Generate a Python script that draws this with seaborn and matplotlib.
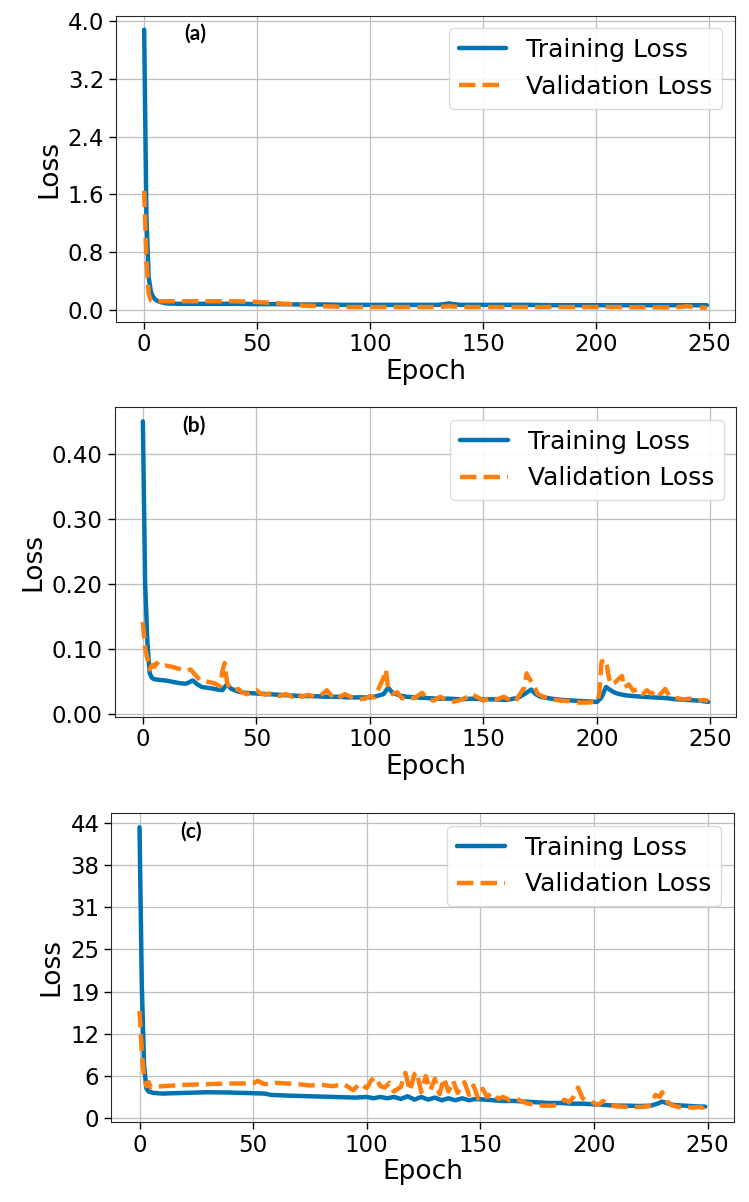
import numpy as np
import pandas as pd
import matplotlib
matplotlib.use('Agg')
import matplotlib.pyplot as plt
import seaborn as sns

# (epoch, loss) pairs
a_train = [(0, 3.88), (1, 1.30), (2, 0.45), (3, 0.25), (4, 0.18), (5, 0.14), (7, 0.11),
           (10, 0.09), (15, 0.085), (20, 0.085), (30, 0.085), (40, 0.085), (50, 0.08),
           (60, 0.08), (70, 0.075), (80, 0.075), (90, 0.07), (100, 0.07), (110, 0.07),
           (120, 0.07), (130, 0.07), (133, 0.08), (135, 0.09), (137, 0.08), (140, 0.07),
           (150, 0.07), (160, 0.07), (170, 0.07), (180, 0.065), (190, 0.065), (200, 0.065),
           (210, 0.065), (220, 0.065), (230, 0.065), (240, 0.065), (249, 0.065)]
a_val = [(0, 1.65), (1, 0.70), (2, 0.22), (3, 0.13), (5, 0.12), (8, 0.12), (10, 0.12),
         (20, 0.12), (30, 0.12), (40, 0.12), (50, 0.11), (55, 0.10), (60, 0.09), (65, 0.08),
         (70, 0.06), (80, 0.05), (90, 0.04), (100, 0.04), (110, 0.04), (120, 0.04),
         (130, 0.04), (135, 0.05), (140, 0.04), (150, 0.04), (160, 0.04), (170, 0.04),
         (180, 0.04), (190, 0.04), (200, 0.04), (210, 0.04), (220, 0.035), (230, 0.035),
         (235, 0.035), (240, 0.05), (245, 0.035), (249, 0.03)]

b_train = [(0, .45), (1, .20), (2, .11), (3, .062), (4, .055), (5, .053), (7, .052), (10, .051),
           (13, .049), (16, .047), (19, .046), (22, .051), (24, .045), (26, .041), (28, .040),
           (30, .039), (33, .037), (35, .036), (37, .045), (39, .038), (42, .034), (45, .032),
           (50, .031), (55, .030), (60, .029), (65, .028), (70, .027), (75, .027), (80, .026),
           (85, .026), (90, .025), (95, .025), (100, .025), (103, .027), (106, .030), (108, .040),
           (110, .032), (113, .028), (116, .026), (120, .025), (125, .024), (130, .023),
           (135, .023), (140, .022), (145, .023), (150, .022), (155, .022), (160, .021),
           (165, .024), (168, .030), (171, .037), (173, .030), (175, .026), (180, .023),
           (185, .021), (190, .020), (195, .019), (200, .018), (202, .025), (204, .041),
           (206, .036), (208, .032), (210, .030), (213, .028), (216, .027), (220, .026),
           (225, .025), (230, .024), (235, .022), (240, .021), (245, .020), (249, .018)]
b_val = [(0, .141), (1, .100), (2, .085), (3, .068), (4, .075), (5, .072), (6, .078), (8, .072),
         (10, .074), (13, .072), (16, .069), (19, .066), (21, .068), (23, .060), (25, .052),
         (27, .050), (30, .048), (32, .046), (34, .042), (35, .065), (36, .078), (37, .050),
         (38, .040), (40, .036), (42, .038), (44, .032), (46, .030), (48, .034), (50, .036),
         (52, .031), (54, .029), (57, .032), (60, .027), (63, .030), (66, .026), (68, .031),
         (70, .026), (73, .029), (76, .025), (79, .030), (81, .036), (83, .028), (85, .032),
         (87, .026), (89, .030), (92, .025), (95, .022), (98, .023), (100, .027), (102, .025),
         (104, .040), (106, .055), (107, .068), (108, .040), (110, .030), (112, .033),
         (114, .024), (117, .022), (120, .025), (123, .032), (125, .024), (128, .020),
         (131, .026), (133, .022), (136, .018), (139, .020), (142, .024), (145, .030),
         (147, .026), (150, .020), (153, .025), (156, .022), (159, .026), (162, .020),
         (164, .018), (166, .030), (168, .040), (169, .062), (170, .055), (172, .045),
         (174, .030), (177, .025), (180, .022), (184, .020), (188, .019), (192, .017),
         (196, .017), (200, .018), (201, .030), (202, .080), (204, .083), (205, .060),
         (206, .045), (208, .048), (210, .055), (211, .058), (212, .040), (214, .045),
         (216, .035), (218, .038), (220, .030), (222, .036), (224, .030), (226, .037),
         (228, .030), (230, .038), (232, .027), (235, .024), (238, .022), (241, .023),
         (244, .020), (247, .021), (249, .020)]

c_train = [(0, 43.3), (1, 20.0), (2, 8.0), (3, 4.5), (4, 4.0), (6, 3.8), (10, 3.7), (20, 3.8),
           (30, 3.9), (40, 3.85), (50, 3.75), (55, 3.7), (58, 3.5), (65, 3.4), (75, 3.3),
           (85, 3.2), (95, 3.1), (100, 3.2), (103, 3.0), (106, 3.2), (109, 3.0), (112, 3.2),
           (115, 2.9), (118, 3.3), (121, 2.8), (124, 3.2), (127, 2.8), (130, 3.1), (133, 2.7),
           (136, 3.0), (139, 2.7), (142, 3.0), (145, 2.7), (148, 2.9), (152, 2.8), (156, 2.7),
           (160, 2.6), (165, 2.6), (170, 2.5), (175, 2.4), (180, 2.3), (185, 2.3), (190, 2.2),
           (195, 2.2), (200, 2.1), (205, 2.0), (210, 1.9), (215, 1.9), (220, 1.85), (225, 1.9),
           (228, 2.2), (230, 2.5), (232, 2.3), (235, 2.0), (240, 1.9), (245, 1.8), (249, 1.75)]
c_val = [(0, 16.0), (1, 10.0), (2, 6.2), (3, 4.8), (4, 5.4), (5, 4.6), (7, 4.7), (10, 4.8),
         (15, 4.9), (20, 5.0), (30, 5.1), (40, 5.2), (50, 5.2), (52, 5.6), (55, 5.1), (60, 5.3),
         (65, 5.2), (70, 5.1), (75, 4.9), (80, 5.0), (85, 4.8), (90, 5.1), (94, 4.2), (97, 5.2),
         (100, 4.5), (102, 5.7), (104, 6.1), (106, 4.8), (108, 4.6), (110, 5.3), (112, 4.0),
         (115, 4.7), (117, 6.8), (119, 4.1), (121, 6.6), (122, 6.9), (124, 3.9), (126, 6.3),
         (128, 4.2), (130, 5.9), (132, 3.6), (134, 6.0), (136, 4.0), (138, 5.6), (140, 3.8),
         (143, 5.4), (145, 3.5), (147, 4.9), (149, 3.0), (151, 4.4), (153, 3.2), (155, 3.8),
         (158, 2.9), (160, 3.2), (163, 2.7), (166, 2.9), (170, 2.3), (174, 2.0), (178, 1.9),
         (182, 1.9), (185, 2.2), (187, 2.8), (189, 2.4), (191, 3.2), (193, 4.6), (195, 3.0),
         (197, 2.6), (200, 2.3), (202, 2.0), (204, 2.6), (206, 2.0), (210, 1.8), (215, 1.7),
         (220, 1.7), (224, 1.8), (226, 2.6), (227, 3.5), (229, 3.2), (230, 3.9), (232, 2.6),
         (234, 2.0), (237, 1.7), (240, 1.8), (243, 1.6), (246, 1.7), (248, 1.6), (249, 2.1)]

panel_tags = ['(a)', '(b)', '(c)']
a_yticks = [0.0, 0.8, 1.6, 2.4, 3.2, 4.0]
a_ylabels = ['0.0', '0.8', '1.6', '2.4', '3.2', '4.0']
b_yticks = [0.0, 0.1, 0.2, 0.3, 0.4]
b_ylabels = ['0.00', '0.10', '0.20', '0.30', '0.40']
c_yticks = list(np.linspace(0, 44, 8))
c_ylabels = ['0', '6', '12', '19', '25', '31', '38', '44']

TRAIN_C = '#0173b2'
VAL_C = '#ff7f0e'

sns.set_style('ticks', {'axes.grid': True, 'grid.color': '.75',
                        'axes.edgecolor': '.1', 'text.color': 'black',
                        'xtick.color': 'black', 'ytick.color': 'black',
                        'axes.labelcolor': 'black'})
plt.rcParams['font.family'] = ['DejaVu Sans']

fig = plt.figure(figsize=(7.49, 12.02), dpi=100)
rects = [
    [0.1549, 0.7324, 0.8264, 0.2545],
    [0.1530, 0.4038, 0.8303, 0.2573],
    [0.1485, 0.0668, 0.8309, 0.2566],
]
panels = [(a_train, a_val, a_yticks, a_ylabels),
          (b_train, b_val, b_yticks, b_ylabels),
          (c_train, c_val, c_yticks, c_ylabels)]

for rect, tag, (tr, va, yt, yl) in zip(rects, panel_tags, panels):
    ax = fig.add_axes(rect)
    tr = pd.DataFrame(tr, columns=['epoch', 'loss'])
    va = pd.DataFrame(va, columns=['epoch', 'loss'])
    sns.lineplot(data=tr, x='epoch', y='loss', ax=ax, color=TRAIN_C,
                 linewidth=3.2, label='Training Loss')
    sns.lineplot(data=va, x='epoch', y='loss', ax=ax, color=VAL_C,
                 linewidth=3.2, linestyle='--', label='Validation Loss')
    ax.set_xticks([0, 50, 100, 150, 200, 250])
    ax.set_yticks(yt)
    ax.set_yticklabels(yl)
    ax.tick_params(labelsize=16.5, length=5, width=1)
    ax.set_xlabel('Epoch', fontsize=19, labelpad=2)
    ax.set_ylabel('Loss', fontsize=19, labelpad=4)
    ax.grid(True, color='.75', linewidth=0.9)
    for s in ax.spines.values():
        s.set_color('.15')
    ax.legend(loc='upper right', fontsize=18, frameon=True, edgecolor='.85',
              framealpha=0.9, fancybox=True, handlelength=1.9)
    ax.text(0.128, 0.94, tag, transform=ax.transAxes, ha='center', va='center',
            fontsize=15, fontweight='bold', family=['Lato', 'DejaVu Sans'])

fig.savefig('out.png', dpi=100)
